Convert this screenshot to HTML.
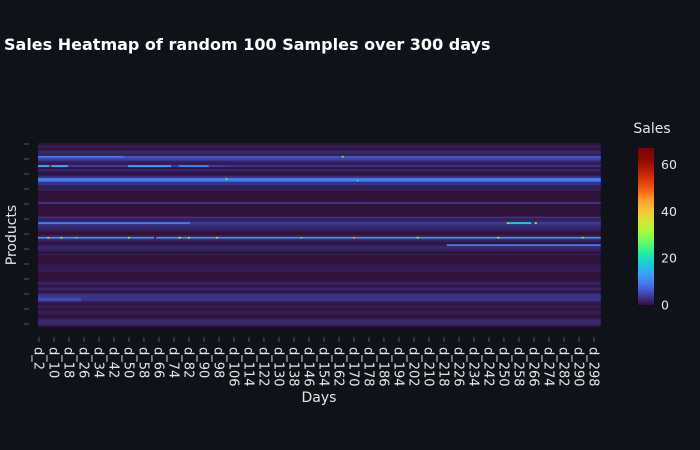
<!DOCTYPE html>
<html><head><meta charset="utf-8">
<style>
html,body{margin:0;padding:0;background:#0f1219;}
svg{display:block;font-family:"DejaVu Sans","Liberation Sans",sans-serif;}
</style></head>
<body>
<svg id="chart" width="700" height="450" viewBox="0 0 700 450">
  <rect x="0" y="0" width="700" height="450" fill="#0f1219"/>
  <text x="4" y="50" fill="#ffffff" font-size="16" font-weight="bold">Sales Heatmap of random 100 Samples over 300 days</text>
  <g id="cells"></g>
  <g id="xaxis"></g>
  <g id="yaxis"></g>
  <text x="319" y="402" fill="#e6e6e6" font-size="14" text-anchor="middle">Days</text>
  <text x="16" y="235" fill="#e6e6e6" font-size="14" text-anchor="middle" transform="rotate(-90 16 235)">Products</text>
  <text x="652" y="133" fill="#e6e6e6" font-size="14" text-anchor="middle">Sales</text>
  <defs><linearGradient id="cbgrad" x1="0" y1="1" x2="0" y2="0"></linearGradient></defs>
  <rect x="638" y="148" width="16" height="157" fill="url(#cbgrad)"/>
  <g id="cbticks"></g>
</svg>
<script>
// ---- data ----
const numProducts = 100;
const numDays = 300;
const firstDay = 2;
const zMax = 67;
const colorbarTicks = [0, 20, 40, 60];
const dayTickStep = 8;
// base sales level per product row (top to bottom)
const rowLevels = [
 0,1,1,0,2,2,1,6,5,3, 1,1,4,0,2,1,0,1,3,9, 9,3,3,1,1,1,0,0,0,0, 0,0,3,0,0,0,0,0,0,0,
 3,1,2,4,3,2,2,1,0,0, 1,11,2,1,0,1,2,2,1,0, 1,0,0,0,0,0,1,1,1,1, 0,0,0,0,0,1,2,0,1,2,
 0,1,3,3,3,3,1,0,1,1, 0,1,1,0,0,1,2,2,2,0
];
// segments: [row, startDayIdx, endDayIdx, level]
const segRows   = [12, 12, 12, 12, 43, 43, 55, 84, 85, 7, 20, 19];
const segStart  = [0,  48,  75, 100, 0, 250, 218, 0, 0, 0, 0, 150];
const segEnd    = [15, 70,  90, 299, 80, 262, 299, 22, 22, 45, 299, 299];
const segLevel  = [14, 13,  10, 3,  10, 18, 9, 5, 5, 9, 10, 9];
// individual hot cells: row, dayIdx, value
const hotRows = [12, 51, 51, 51, 51, 51, 51, 51, 51, 51, 51, 51, 19, 20, 43, 43, 7, 51, 51];
const hotDays = [6,  5,  12, 48, 62, 75, 80, 95, 168, 202, 245, 290, 100, 170, 250, 265, 162, 140, 20];
const hotVals = [60, 40, 30, 28, 64, 34, 30, 40, 45, 30, 35, 28, 26, 22, 42, 30, 26, 24, 22];

// ---- layout ----
const x0 = 38, x1 = 600.5, y0 = 143, y1 = 327;
const cw = (x1 - x0) / numDays, ch = (y1 - y0) / numProducts;
const xPos = i => x0 + i * cw;
const yPos = r => y0 + r * ch;

const turbo = [[0,'#30123b'],[0.07,'#4145ab'],[0.13,'#4675ed'],[0.2,'#39a2fc'],[0.27,'#1bcfd4'],[0.33,'#24eca6'],[0.4,'#61fc6c'],[0.47,'#a4fc3b'],[0.53,'#d1e834'],[0.6,'#f3c63a'],[0.67,'#fe9b2d'],[0.73,'#f36315'],[0.8,'#d93806'],[0.87,'#b11901'],[0.93,'#8a0a02'],[1,'#7a0403']];
function hex(c){return [parseInt(c.substr(1,2),16),parseInt(c.substr(3,2),16),parseInt(c.substr(5,2),16)];}
function color(v){
  let t = Math.max(0, Math.min(1, v / zMax));
  for (let k = 1; k < turbo.length; k++) {
    if (t <= turbo[k][0]) {
      const a = hex(turbo[k-1][1]), b = hex(turbo[k][1]);
      const f = (t - turbo[k-1][0]) / (turbo[k][0] - turbo[k-1][0]);
      return 'rgb(' + a.map((q,j)=>Math.round(q + (b[j]-q)*f)).join(',') + ')';
    }
  }
  return turbo[turbo.length-1][1];
}

const NS = 'http://www.w3.org/2000/svg';
const grid = [];
for (let r = 0; r < numProducts; r++) grid.push(new Array(numDays).fill(rowLevels[r]));
for (let s = 0; s < segRows.length; s++)
  for (let d = segStart[s]; d <= segEnd[s]; d++) grid[segRows[s]][d] = segLevel[s];
for (let h = 0; h < hotRows.length; h++) grid[hotRows[h]][hotDays[h]] = hotVals[h];

const cells = document.getElementById('cells');
const bg = document.createElementNS(NS, 'rect');
bg.setAttribute('x', x0); bg.setAttribute('y', y0);
bg.setAttribute('width', x1 - x0); bg.setAttribute('height', y1 - y0);
bg.setAttribute('fill', color(0));


cells.appendChild(bg);
for (let r = 0; r < numProducts; r++) {
  let d = 0;
  while (d < numDays) {
    const v = grid[r][d];
    let e = d;
    while (e + 1 < numDays && grid[r][e+1] === v) e++;
    if (v > 0) {
      const rc = document.createElementNS(NS, 'rect');
      rc.setAttribute('x', xPos(d).toFixed(2));
      rc.setAttribute('y', yPos(r).toFixed(2));
      rc.setAttribute('width', ((e - d + 1) * cw + 0.3).toFixed(2));
      rc.setAttribute('height', (ch + 0.2).toFixed(2));
      rc.setAttribute('fill', color(v));
      
      
      cells.appendChild(rc);
    }
    d = e + 1;
  }
}

// x axis
const xa = document.getElementById('xaxis');
for (let i = 0; i < numDays; i += dayTickStep) {
  const cx = xPos(i) + cw / 2;
  const tk = document.createElementNS(NS, 'line');
  tk.setAttribute('x1', cx); tk.setAttribute('x2', cx);
  tk.setAttribute('y1', 337); tk.setAttribute('y2', 342);
  tk.setAttribute('stroke', '#555');
  
  
  xa.appendChild(tk);
  const lb = document.createElementNS(NS, 'text');
  lb.setAttribute('x', cx - 4.5); lb.setAttribute('y', 347);
  lb.setAttribute('fill', '#e6e6e6'); lb.setAttribute('font-size', '13');
  lb.setAttribute('transform', 'rotate(90 ' + (cx - 4.5) + ' 347)');
  lb.textContent = 'd_' + (firstDay + i);
  
  
  xa.appendChild(lb);
}
// y axis ticks (labels hidden)
const ya = document.getElementById('yaxis');
for (let k = 0; k < 13; k++) {
  const ty = 324 - k * 15;
  const tk = document.createElementNS(NS, 'line');
  tk.setAttribute('x1', 24); tk.setAttribute('x2', 29);
  tk.setAttribute('y1', ty); tk.setAttribute('y2', ty);
  tk.setAttribute('stroke', '#555');
  
  
  ya.appendChild(tk);
}
// colorbar
const grad = document.getElementById('cbgrad');
turbo.forEach(s => {
  const st = document.createElementNS(NS, 'stop');
  st.setAttribute('offset', s[0]); st.setAttribute('stop-color', s[1]);
  grad.appendChild(st);
});
const cbt = document.getElementById('cbticks');
colorbarTicks.forEach(v => {
  const ty = 305 - v / zMax * 157;
  const t = document.createElementNS(NS, 'text');
  t.setAttribute('x', 661); t.setAttribute('y', ty + 4.5);
  t.setAttribute('fill', '#e6e6e6'); t.setAttribute('font-size', '12.5');
  t.textContent = v;
  
  
  cbt.appendChild(t);
});
</script>
</body></html>
